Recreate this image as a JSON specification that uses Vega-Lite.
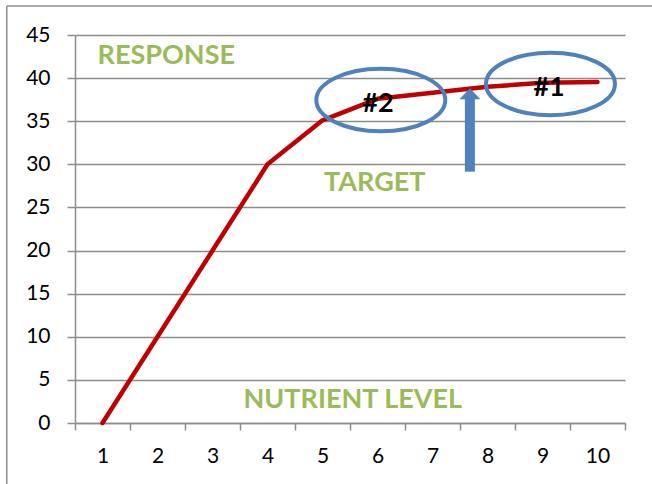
{
  "$schema": "https://vega.github.io/schema/vega-lite/v6.json",
  "width": 550,
  "height": 388,
  "autosize": {"type": "none"},
  "padding": {"left": 75, "top": 35, "right": 27, "bottom": 61},
  "background": "white",
  "config": {"view": {"stroke": null}, "font": "Lato"},
  "datasets": {
    "response": [
      {"level": 1, "response": 0},
      {"level": 2, "response": 10},
      {"level": 3, "response": 20},
      {"level": 4, "response": 30},
      {"level": 5, "response": 35.1},
      {"level": 6, "response": 37.6},
      {"level": 7, "response": 38.3},
      {"level": 8, "response": 39.0},
      {"level": 9, "response": 39.45},
      {"level": 10, "response": 39.55}
    ],
    "frame": [
      {"x": -0.74, "x2": 12, "y": 48.37, "y2": 48.37},
      {"x": -0.74, "x2": -0.74, "y": 48.37, "y2": -8}
    ],
    "ellipses": [
      {"name": "#2", "x": 6.06, "y": 37.46},
      {"name": "#1", "x": 9.145, "y": 39.32}
    ],
    "marks": [
      {"label": "#2", "x": 6.01, "y": 37.0},
      {"label": "#1", "x": 9.12, "y": 38.8}
    ],
    "notes": [
      {"label": "RESPONSE", "x": 2.16, "y": 42.6},
      {"label": "TARGET", "x": 5.95, "y": 27.8},
      {"label": "NUTRIENT LEVEL", "x": 5.55, "y": 2.67}
    ],
    "arrow": [
      {"x": 7.68, "y": 29.15, "y2": 37.6, "tip": 37.54}
    ]
  },
  "layer": [
    {
      "data": {"name": "response"},
      "mark": {"type": "line", "color": "#C00000", "strokeWidth": 4.5, "strokeCap": "round", "strokeJoin": "round"},
      "encoding": {
        "x": {
          "field": "level", "type": "ordinal",
          "scale": {"type": "band", "paddingInner": 0, "paddingOuter": 0},
          "axis": {
            "title": null, "labelAngle": 0, "tickBand": "extent", "tickSize": 7,
            "tickColor": "#8C8C8C", "tickWidth": 1.5, "domainColor": "#8C8C8C", "domainWidth": 1.5,
            "labelFontSize": 21, "labelColor": "#000000", "labelPadding": 15, "labelFont": "Lato", "grid": false
          }
        },
        "y": {
          "field": "response", "type": "quantitative",
          "scale": {"domain": [0, 45], "nice": false},
          "axis": {
            "title": null, "values": [0, 5, 10, 15, 20, 25, 30, 35, 40, 45],
            "grid": true, "gridColor": "#8C8C8C", "gridWidth": 1.5,
            "tickSize": 8, "tickColor": "#8C8C8C", "tickWidth": 1.5,
            "domainColor": "#8C8C8C", "domainWidth": 1.5,
            "labelFontSize": 21, "labelColor": "#000000", "labelPadding": 17, "labelFont": "Lato"
          }
        }
      }
    },
    {
      "data": {"name": "frame"},
      "mark": {"type": "rule", "color": "#8C8C8C", "strokeWidth": 1.5},
      "encoding": {
        "x": {"field": "x", "type": "quantitative", "scale": {"domain": [0.5, 10.5], "nice": false, "zero": false}, "axis": null},
        "x2": {"field": "x2"},
        "y": {
          "field": "y", "type": "quantitative", "scale": {"domain": [0, 45], "nice": false},
          "axis": {
            "title": null, "values": [0, 5, 10, 15, 20, 25, 30, 35, 40, 45],
            "grid": true, "gridColor": "#8C8C8C", "gridWidth": 1.5,
            "tickSize": 8, "tickColor": "#8C8C8C", "tickWidth": 1.5,
            "domainColor": "#8C8C8C", "domainWidth": 1.5,
            "labelFontSize": 21, "labelColor": "#000000", "labelPadding": 17, "labelFont": "Lato"
          }
        },
        "y2": {"field": "y2"}
      }
    },
    {
      "data": {"name": "ellipses"},
      "mark": {"type": "point", "shape": "M-1,0 A1,0.484 0 1,1 1,0 A1,0.484 0 1,1 -1,0 Z", "size": 16641, "filled": false, "stroke": "#4F81BD", "strokeWidth": 4, "opacity": 1},
      "encoding": {
        "x": {"field": "x", "type": "quantitative", "scale": {"domain": [0.5, 10.5], "nice": false, "zero": false}, "axis": null},
        "y": {
          "field": "y", "type": "quantitative", "scale": {"domain": [0, 45], "nice": false},
          "axis": {
            "title": null, "values": [0, 5, 10, 15, 20, 25, 30, 35, 40, 45],
            "grid": true, "gridColor": "#8C8C8C", "gridWidth": 1.5,
            "tickSize": 8, "tickColor": "#8C8C8C", "tickWidth": 1.5,
            "domainColor": "#8C8C8C", "domainWidth": 1.5,
            "labelFontSize": 21, "labelColor": "#000000", "labelPadding": 17, "labelFont": "Lato"
          }
        }
      }
    },
    {
      "data": {"name": "arrow"},
      "mark": {"type": "rule", "color": "#4F81BD", "strokeWidth": 10, "strokeCap": "butt"},
      "encoding": {
        "x": {"field": "x", "type": "quantitative", "scale": {"domain": [0.5, 10.5], "nice": false, "zero": false}, "axis": null},
        "y": {
          "field": "y", "type": "quantitative", "scale": {"domain": [0, 45], "nice": false},
          "axis": {
            "title": null, "values": [0, 5, 10, 15, 20, 25, 30, 35, 40, 45],
            "grid": true, "gridColor": "#8C8C8C", "gridWidth": 1.5,
            "tickSize": 8, "tickColor": "#8C8C8C", "tickWidth": 1.5,
            "domainColor": "#8C8C8C", "domainWidth": 1.5,
            "labelFontSize": 21, "labelColor": "#000000", "labelPadding": 17, "labelFont": "Lato"
          }
        },
        "y2": {"field": "y2"}
      }
    },
    {
      "data": {"name": "arrow"},
      "mark": {"type": "point", "shape": "M-1,0 L1,0 L0,-1.05 Z", "size": 441, "filled": true, "color": "#4F81BD", "opacity": 1},
      "encoding": {
        "x": {"field": "x", "type": "quantitative", "scale": {"domain": [0.5, 10.5], "nice": false, "zero": false}, "axis": null},
        "y": {
          "field": "tip", "type": "quantitative", "scale": {"domain": [0, 45], "nice": false},
          "axis": {
            "title": null, "values": [0, 5, 10, 15, 20, 25, 30, 35, 40, 45],
            "grid": true, "gridColor": "#8C8C8C", "gridWidth": 1.5,
            "tickSize": 8, "tickColor": "#8C8C8C", "tickWidth": 1.5,
            "domainColor": "#8C8C8C", "domainWidth": 1.5,
            "labelFontSize": 21, "labelColor": "#000000", "labelPadding": 17, "labelFont": "Lato"
          }
        }
      }
    },
    {
      "data": {"name": "marks"},
      "mark": {"type": "text", "font": "Lato", "fontWeight": "bold", "fontSize": 27, "color": "#000000", "align": "center", "baseline": "middle"},
      "encoding": {
        "x": {"field": "x", "type": "quantitative", "scale": {"domain": [0.5, 10.5], "nice": false, "zero": false}, "axis": null},
        "y": {
          "field": "y", "type": "quantitative", "scale": {"domain": [0, 45], "nice": false},
          "axis": {
            "title": null, "values": [0, 5, 10, 15, 20, 25, 30, 35, 40, 45],
            "grid": true, "gridColor": "#8C8C8C", "gridWidth": 1.5,
            "tickSize": 8, "tickColor": "#8C8C8C", "tickWidth": 1.5,
            "domainColor": "#8C8C8C", "domainWidth": 1.5,
            "labelFontSize": 21, "labelColor": "#000000", "labelPadding": 17, "labelFont": "Lato"
          }
        },
        "text": {"field": "label"}
      }
    },
    {
      "data": {"name": "notes"},
      "mark": {"type": "text", "font": "Lato", "fontWeight": "bold", "fontSize": 27, "color": "#9BBB59", "align": "center", "baseline": "middle"},
      "encoding": {
        "x": {"field": "x", "type": "quantitative", "scale": {"domain": [0.5, 10.5], "nice": false, "zero": false}, "axis": null},
        "y": {
          "field": "y", "type": "quantitative", "scale": {"domain": [0, 45], "nice": false},
          "axis": {
            "title": null, "values": [0, 5, 10, 15, 20, 25, 30, 35, 40, 45],
            "grid": true, "gridColor": "#8C8C8C", "gridWidth": 1.5,
            "tickSize": 8, "tickColor": "#8C8C8C", "tickWidth": 1.5,
            "domainColor": "#8C8C8C", "domainWidth": 1.5,
            "labelFontSize": 21, "labelColor": "#000000", "labelPadding": 17, "labelFont": "Lato"
          }
        },
        "text": {"field": "label"}
      }
    }
  ],
  "resolve": {"scale": {"x": "independent"}, "axis": {"x": "independent"}}
}
